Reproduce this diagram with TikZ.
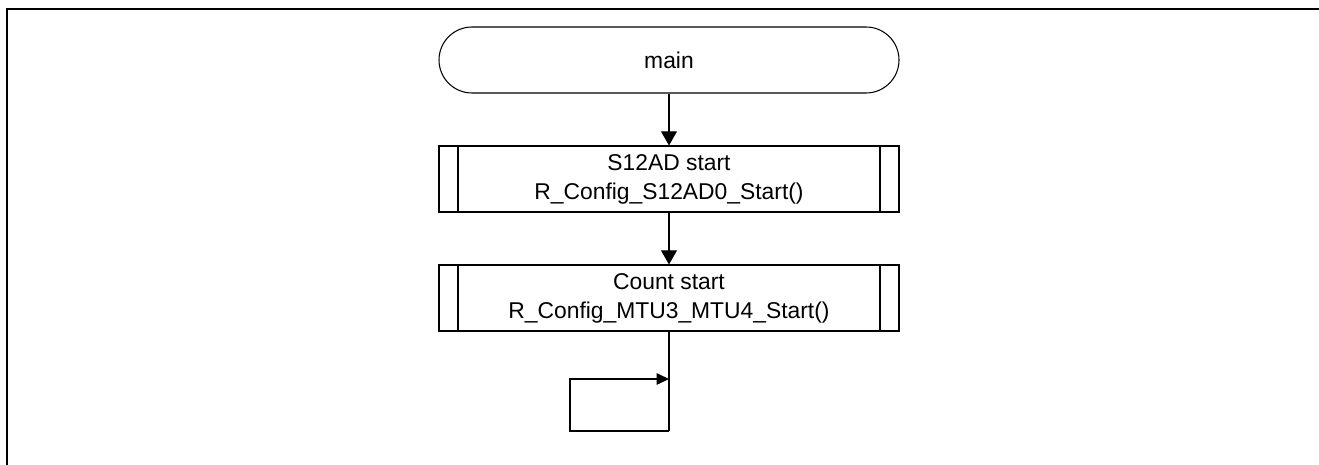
\documentclass[tikz,border=0pt]{standalone}
\usepackage{fontspec}
\setmainfont{Liberation Sans}
\usetikzlibrary{calc}
\usetikzlibrary{arrows.meta}

\tikzset{
  term/.style={draw, line width=0.6pt, rounded corners=0.66cm, minimum width=9.2cm, minimum height=1.32cm, font=\fontsize{13}{16.5}\selectfont},
  subr/.style={draw, line width=0.6pt, minimum width=9.2cm, minimum height=1.32cm, align=center, font=\fontsize{13}{16.5}\selectfont,
    path picture={
      \draw[line width=0.6pt] ([xshift=0.38cm]path picture bounding box.north west) -- ([xshift=0.38cm]path picture bounding box.south west);
      \draw[line width=0.6pt] ([xshift=-0.38cm]path picture bounding box.north east) -- ([xshift=-0.38cm]path picture bounding box.south east);
    }},
  flow/.style={line width=0.6pt, -{Triangle[length=8pt,width=9pt]}},
  loopflow/.style={line width=0.6pt, -{Triangle[length=7pt,width=6.5pt]}}
}

\begin{document}
\begin{tikzpicture}

\useasboundingbox (0,0) rectangle (26.38,-9.3);

% frame
\draw[line width=1.4pt] (0.14,-9.3) -- (0.14,-0.18) -- (26.38,-0.18);

\node[term] (main) at (13.38,-1.2) {main};
\node[subr] (adstart) at (13.38,-3.58) {S12AD start\\R\_Config\_S12AD0\_Start()};
\node[subr] (cntstart) at (13.38,-5.96) {Count start\\R\_Config\_MTU3\_MTU4\_Start()};

\coordinate (lpA) at (13.38,-7.58);
\coordinate (lpB) at (13.38,-8.62);
\coordinate (lpC) at (11.4,-8.62);
\coordinate (lpD) at (11.4,-7.58);

\draw[flow] (main) -- (adstart);
\draw[flow] (adstart) -- (cntstart);
\draw[line width=0.6pt] (cntstart) -- (lpB);
\draw[loopflow] (lpB) -- (lpC) -- (lpD) -- (lpA);

\end{tikzpicture}
\end{document}
